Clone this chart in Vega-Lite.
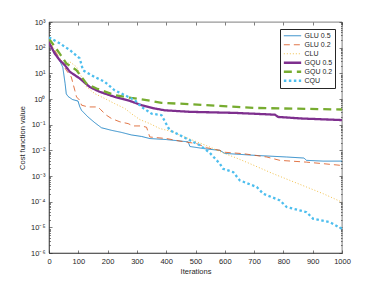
{
 "$schema": "https://vega.github.io/schema/vega-lite/v6.json",
 "width": 293, "height": 231,
 "autosize": {"type": "none"},
 "padding": {"left": 49, "top": 22, "right": 36, "bottom": 31},
 "background": "white",
 "config": {"font": "Liberation Sans", "view": {"stroke": "#262626", "strokeWidth": 0.6},
  "axis": {"labelColor": "#262626", "titleColor": "#262626", "tickColor": "#262626", "domainColor": "#262626", "domainWidth": 0.6, "tickWidth": 0.6, "labelFontSize": 7.5, "titleFontSize": 7.5, "titleFontWeight": "normal", "grid": false}},
 "data": {"values": [
  {"s":"GLU 0.5","x":0,"y":151},{"s":"GLU 0.5","x":10,"y":100},{"s":"GLU 0.5","x":25,"y":56.2},{"s":"GLU 0.5","x":47,"y":17.4},{"s":"GLU 0.5","x":55,"y":3.98},{"s":"GLU 0.5","x":59,"y":1.58},{"s":"GLU 0.5","x":65,"y":1.26},{"s":"GLU 0.5","x":80,"y":0.955},{"s":"GLU 0.5","x":99,"y":0.832},{"s":"GLU 0.5","x":105,"y":0.501},{"s":"GLU 0.5","x":111,"y":0.363},{"s":"GLU 0.5","x":133,"y":0.2},{"s":"GLU 0.5","x":156,"y":0.12},{"s":"GLU 0.5","x":179,"y":0.0759},{"s":"GLU 0.5","x":213,"y":0.0603},{"s":"GLU 0.5","x":247,"y":0.0501},{"s":"GLU 0.5","x":281,"y":0.0398},{"s":"GLU 0.5","x":316,"y":0.0347},{"s":"GLU 0.5","x":344,"y":0.0288},{"s":"GLU 0.5","x":400,"y":0.0263},{"s":"GLU 0.5","x":475,"y":0.0214},{"s":"GLU 0.5","x":481,"y":0.0141},{"s":"GLU 0.5","x":540,"y":0.0112},{"s":"GLU 0.5","x":583,"y":0.01},{"s":"GLU 0.5","x":600,"y":0.00759},{"s":"GLU 0.5","x":709,"y":0.00631},{"s":"GLU 0.5","x":811,"y":0.0055},{"s":"GLU 0.5","x":870,"y":0.00501},{"s":"GLU 0.5","x":879,"y":0.00407},{"s":"GLU 0.5","x":936,"y":0.0038},{"s":"GLU 0.5","x":1000,"y":0.0038},
  {"s":"GLU 0.2","x":0,"y":158},{"s":"GLU 0.2","x":20,"y":79.4},{"s":"GLU 0.2","x":40,"y":31.6},{"s":"GLU 0.2","x":59,"y":13.2},{"s":"GLU 0.2","x":76,"y":7.24},{"s":"GLU 0.2","x":88,"y":2.19},{"s":"GLU 0.2","x":94,"y":1.2},{"s":"GLU 0.2","x":105,"y":0.891},{"s":"GLU 0.2","x":111,"y":0.575},{"s":"GLU 0.2","x":133,"y":0.49},{"s":"GLU 0.2","x":167,"y":0.49},{"s":"GLU 0.2","x":175,"y":0.398},{"s":"GLU 0.2","x":196,"y":0.234},{"s":"GLU 0.2","x":213,"y":0.174},{"s":"GLU 0.2","x":242,"y":0.129},{"s":"GLU 0.2","x":270,"y":0.11},{"s":"GLU 0.2","x":287,"y":0.0891},{"s":"GLU 0.2","x":316,"y":0.0891},{"s":"GLU 0.2","x":333,"y":0.0794},{"s":"GLU 0.2","x":344,"y":0.0331},{"s":"GLU 0.2","x":401,"y":0.0288},{"s":"GLU 0.2","x":447,"y":0.0229},{"s":"GLU 0.2","x":481,"y":0.02},{"s":"GLU 0.2","x":504,"y":0.0182},{"s":"GLU 0.2","x":538,"y":0.0126},{"s":"GLU 0.2","x":583,"y":0.01},{"s":"GLU 0.2","x":594,"y":0.00851},{"s":"GLU 0.2","x":663,"y":0.00741},{"s":"GLU 0.2","x":743,"y":0.0055},{"s":"GLU 0.2","x":788,"y":0.00407},{"s":"GLU 0.2","x":879,"y":0.00347},{"s":"GLU 0.2","x":936,"y":0.00302},{"s":"GLU 0.2","x":1000,"y":0.00257},
  {"s":"CLU","x":0,"y":200},{"s":"CLU","x":30,"y":50.1},{"s":"CLU","x":54,"y":20.9},{"s":"CLU","x":71,"y":28.2},{"s":"CLU","x":94,"y":17.8},{"s":"CLU","x":128,"y":2.95},{"s":"CLU","x":156,"y":1.62},{"s":"CLU","x":190,"y":1.05},{"s":"CLU","x":224,"y":0.661},{"s":"CLU","x":259,"y":0.427},{"s":"CLU","x":281,"y":0.269},{"s":"CLU","x":310,"y":0.158},{"s":"CLU","x":344,"y":0.11},{"s":"CLU","x":378,"y":0.0708},{"s":"CLU","x":424,"y":0.0525},{"s":"CLU","x":447,"y":0.0389},{"s":"CLU","x":492,"y":0.0245},{"s":"CLU","x":549,"y":0.0135},{"s":"CLU","x":594,"y":0.00794},{"s":"CLU","x":640,"y":0.00501},{"s":"CLU","x":686,"y":0.00302},{"s":"CLU","x":765,"y":0.00123},{"s":"CLU","x":822,"y":0.000676},{"s":"CLU","x":879,"y":0.000372},{"s":"CLU","x":936,"y":0.000204},{"s":"CLU","x":1000,"y":0.0000955},
  {"s":"GQU 0.5","x":0,"y":158},{"s":"GQU 0.5","x":19,"y":60.3},{"s":"GQU 0.5","x":36,"y":33.1},{"s":"GQU 0.5","x":54,"y":20.9},{"s":"GQU 0.5","x":71,"y":11.5},{"s":"GQU 0.5","x":105,"y":6.31},{"s":"GQU 0.5","x":139,"y":2.95},{"s":"GQU 0.5","x":173,"y":1.91},{"s":"GQU 0.5","x":225,"y":1.2},{"s":"GQU 0.5","x":270,"y":0.891},{"s":"GQU 0.5","x":316,"y":0.575},{"s":"GQU 0.5","x":361,"y":0.427},{"s":"GQU 0.5","x":395,"y":0.363},{"s":"GQU 0.5","x":481,"y":0.316},{"s":"GQU 0.5","x":634,"y":0.288},{"s":"GQU 0.5","x":771,"y":0.245},{"s":"GQU 0.5","x":782,"y":0.2},{"s":"GQU 0.5","x":862,"y":0.174},{"s":"GQU 0.5","x":1000,"y":0.151},
  {"s":"GQU 0.2","x":0,"y":224},{"s":"GQU 0.2","x":36,"y":60.3},{"s":"GQU 0.2","x":59,"y":24.5},{"s":"GQU 0.2","x":94,"y":13.2},{"s":"GQU 0.2","x":128,"y":3.98},{"s":"GQU 0.2","x":162,"y":2.57},{"s":"GQU 0.2","x":225,"y":1.41},{"s":"GQU 0.2","x":281,"y":1.1},{"s":"GQU 0.2","x":338,"y":0.891},{"s":"GQU 0.2","x":384,"y":0.708},{"s":"GQU 0.2","x":481,"y":0.631},{"s":"GQU 0.2","x":709,"y":0.447},{"s":"GQU 0.2","x":1000,"y":0.389},
  {"s":"CQU","x":0,"y":251},{"s":"CQU","x":36,"y":148},{"s":"CQU","x":71,"y":81.3},{"s":"CQU","x":105,"y":38},{"s":"CQU","x":116,"y":13.2},{"s":"CQU","x":156,"y":7.24},{"s":"CQU","x":190,"y":4.68},{"s":"CQU","x":224,"y":2.19},{"s":"CQU","x":259,"y":1.41},{"s":"CQU","x":293,"y":0.891},{"s":"CQU","x":316,"y":0.49},{"s":"CQU","x":350,"y":0.269},{"s":"CQU","x":384,"y":0.234},{"s":"CQU","x":412,"y":0.0603},{"s":"CQU","x":447,"y":0.0389},{"s":"CQU","x":481,"y":0.0245},{"s":"CQU","x":515,"y":0.0158},{"s":"CQU","x":549,"y":0.00794},{"s":"CQU","x":583,"y":0.00302},{"s":"CQU","x":594,"y":0.00191},{"s":"CQU","x":629,"y":0.00141},{"s":"CQU","x":651,"y":0.000676},{"s":"CQU","x":709,"y":0.000372},{"s":"CQU","x":731,"y":0.000204},{"s":"CQU","x":788,"y":0.000112},{"s":"CQU","x":811,"y":0.0000617},{"s":"CQU","x":879,"y":0.0000389},{"s":"CQU","x":902,"y":0.0000214},{"s":"CQU","x":959,"y":0.0000158},{"s":"CQU","x":1000,"y":0.0000087}
 ]},
 "layer": [
  {"mark": {"type": "line", "clip": true},
   "encoding": {
    "x": {"field": "x", "type": "quantitative", "scale": {"domain": [0, 1000], "nice": false},
      "axis": {"orient": "bottom", "title": "Iterations", "format": "d", "values": [0,100,200,300,400,500,600,700,800,900,1000], "tickSize": -3, "labelPadding": 7, "titlePadding": 3, "labelFlush": false}},
    "y": {"field": "y", "type": "quantitative", "scale": {"type": "log", "domain": [0.000001, 1000], "nice": false},
      "axis": {"orient": "left", "title": "Cost function value", "values": [0.000001,0.00001,0.0001,0.001,0.01,0.1,1,10,100,1000], "tickSize": -3, "labelPadding": 7, "titlePadding": 4,
        "labelExpr": "'10' + ['⁻⁶','⁻⁵','⁻⁴','⁻³','⁻²','⁻¹','⁰','¹','²','³'][round(log(datum.value)/LN10)+6]"}},
    "color": {"field": "s", "type": "nominal", "title": null, "sort": ["GLU 0.5","GLU 0.2","CLU","GQU 0.5","GQU 0.2","CQU"],
      "scale": {"domain": ["GLU 0.5","GLU 0.2","CLU","GQU 0.5","GQU 0.2","CQU"], "range": ["#0072BD","#D95319","#EDB120","#7E2F8E","#77AC30","#4DBEEE"]},
      "legend": {"orient": "top-right", "offset": 7, "labelFontSize": 7, "labelColor": "#262626", "symbolType": "stroke", "symbolSize": 300, "clipHeight": 8.5, "strokeColor": "#262626", "fillColor": "white", "padding": 2.5, "rowPadding": 0, "labelOffset": 2}},
    "strokeDash": {"field": "s", "type": "nominal", "title": null,
      "scale": {"domain": ["GLU 0.5","GLU 0.2","CLU","GQU 0.5","GQU 0.2","CQU"], "range": [[1,0],[6,4],[1,2],[1,0],[8,5],[2.5,2.5]]}},
    "strokeWidth": {"field": "s", "type": "ordinal", "title": null,
      "scale": {"type": "ordinal", "domain": ["GLU 0.5","GLU 0.2","CLU","GQU 0.5","GQU 0.2","CQU"], "range": [0.8,0.8,0.8,2.3,2.3,2.3]}}
   }},
  {"mark": {"type": "line", "opacity": 0},
   "encoding": {
    "x": {"field": "x", "type": "quantitative", "axis": {"orient": "top", "title": null, "labels": false, "domain": false, "values": [0,100,200,300,400,500,600,700,800,900,1000], "tickSize": -3}},
    "y": {"field": "y", "type": "quantitative", "axis": {"orient": "right", "title": null, "labels": false, "domain": false, "values": [0.000001,0.00001,0.0001,0.001,0.01,0.1,1,10,100,1000], "tickSize": -3}},
    "detail": {"field": "s"}
   }},
  {"mark": {"type": "line", "opacity": 0},
   "encoding": {
    "x": {"field": "x", "type": "quantitative", "axis": null},
    "y": {"field": "y", "type": "quantitative", "axis": {"orient": "left", "title": null, "labels": false, "domain": false, "tickSize": -1.5,
      "values": [2e-6,3e-6,4e-6,5e-6,6e-6,7e-6,8e-6,9e-6,2e-5,3e-5,4e-5,5e-5,6e-5,7e-5,8e-5,9e-5,2e-4,3e-4,4e-4,5e-4,6e-4,7e-4,8e-4,9e-4,2e-3,3e-3,4e-3,5e-3,6e-3,7e-3,8e-3,9e-3,0.02,0.03,0.04,0.05,0.06,0.07,0.08,0.09,0.2,0.3,0.4,0.5,0.6,0.7,0.8,0.9,2,3,4,5,6,7,8,9,20,30,40,50,60,70,80,90,200,300,400,500,600,700,800,900]}},
    "detail": {"field": "s"}
   }},
  {"mark": {"type": "line", "opacity": 0},
   "encoding": {
    "x": {"field": "x", "type": "quantitative", "axis": null},
    "y": {"field": "y", "type": "quantitative", "axis": {"orient": "right", "title": null, "labels": false, "domain": false, "tickSize": -1.5,
      "values": [2e-6,3e-6,4e-6,5e-6,6e-6,7e-6,8e-6,9e-6,2e-5,3e-5,4e-5,5e-5,6e-5,7e-5,8e-5,9e-5,2e-4,3e-4,4e-4,5e-4,6e-4,7e-4,8e-4,9e-4,2e-3,3e-3,4e-3,5e-3,6e-3,7e-3,8e-3,9e-3,0.02,0.03,0.04,0.05,0.06,0.07,0.08,0.09,0.2,0.3,0.4,0.5,0.6,0.7,0.8,0.9,2,3,4,5,6,7,8,9,20,30,40,50,60,70,80,90,200,300,400,500,600,700,800,900]}},
    "detail": {"field": "s"}
   }}
 ],
 "resolve": {"axis": {"x": "independent", "y": "independent"}}
}
